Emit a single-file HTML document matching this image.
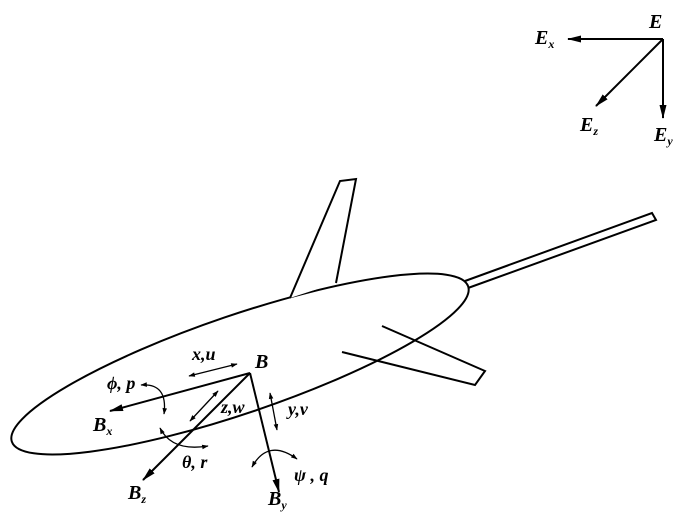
<!DOCTYPE html>
<html><head><style>body{margin:0;background:#fff}svg{display:block}text{font-family:"Liberation Serif",serif;font-style:italic;font-weight:bold;fill:#000}</style></head>
<body>
<svg width="700" height="530" viewBox="0 0 700 530" xmlns="http://www.w3.org/2000/svg">
<defs>
<marker id="a" viewBox="0 0 14 10" refX="13" refY="5" markerWidth="7" markerHeight="5" orient="auto-start-reverse"><path d="M0,1.5 L14,5 L0,8.5 z" fill="#000"/></marker>
<marker id="s" viewBox="0 0 10 10" refX="9" refY="5" markerWidth="6" markerHeight="5" orient="auto-start-reverse"><path d="M0,1.5 L10,5 L0,8.5 z" fill="#000"/></marker>
</defs>
<g fill="none" stroke="#000" stroke-width="2">
<ellipse cx="240" cy="364" rx="241" ry="49" transform="rotate(-18.8 240 364)"/>
<polyline points="290,298 340,181 356,179 336,283" fill="#fff"/>
<polyline points="465,281 652,213 656,220 468,288"/>
<polyline points="382,326 485,371 475,385 342,352"/>
<line x1="250" y1="373" x2="110" y2="411" marker-end="url(#a)"/>
<line x1="250" y1="373" x2="143" y2="480" marker-end="url(#a)"/>
<line x1="250" y1="373" x2="279" y2="492" marker-end="url(#a)"/>
<line x1="663" y1="39" x2="568" y2="39" marker-end="url(#a)"/>
<line x1="663" y1="39" x2="663" y2="118" marker-end="url(#a)"/>
<line x1="663" y1="39" x2="596" y2="106" marker-end="url(#a)"/>
</g>
<g fill="none" stroke="#000" stroke-width="1.3">
<line x1="189" y1="376" x2="237" y2="364" marker-start="url(#s)" marker-end="url(#s)"/>
<line x1="190" y1="421" x2="218" y2="391" marker-start="url(#s)" marker-end="url(#s)"/>
<line x1="270" y1="393" x2="277" y2="430" marker-start="url(#s)" marker-end="url(#s)"/>
<path d="M141,385 Q168,383 164,414" marker-start="url(#s)" marker-end="url(#s)"/>
<path d="M160,428 Q172,452 208,446" marker-start="url(#s)" marker-end="url(#s)"/>
<path d="M252,467 Q268,438 297,459" marker-start="url(#s)" marker-end="url(#s)"/>
</g>
<g style="font-size:20px">
<text x="255" y="368">B</text>
<text x="93" y="431">B<tspan style="font-size:12px" dy="4">x</tspan></text>
<text x="128" y="499">B<tspan style="font-size:12px" dy="4">z</tspan></text>
<text x="268" y="505">B<tspan style="font-size:12px" dy="4">y</tspan></text>
<text x="649" y="28">E</text>
<text x="535" y="44">E<tspan style="font-size:12px" dy="4">x</tspan></text>
<text x="580" y="131">E<tspan style="font-size:12px" dy="4">z</tspan></text>
<text x="654" y="141">E<tspan style="font-size:12px" dy="4">y</tspan></text>
</g>
<g style="font-size:18px">
<text x="192" y="360">x,u</text>
<text x="221" y="413">z,w</text>
<text x="288" y="415">y,v</text>
<text x="107" y="389">ϕ, p</text>
<text x="182" y="468">θ, r</text>
<text x="294" y="481">ψ , q</text>
</g>
</svg>
</body></html>
